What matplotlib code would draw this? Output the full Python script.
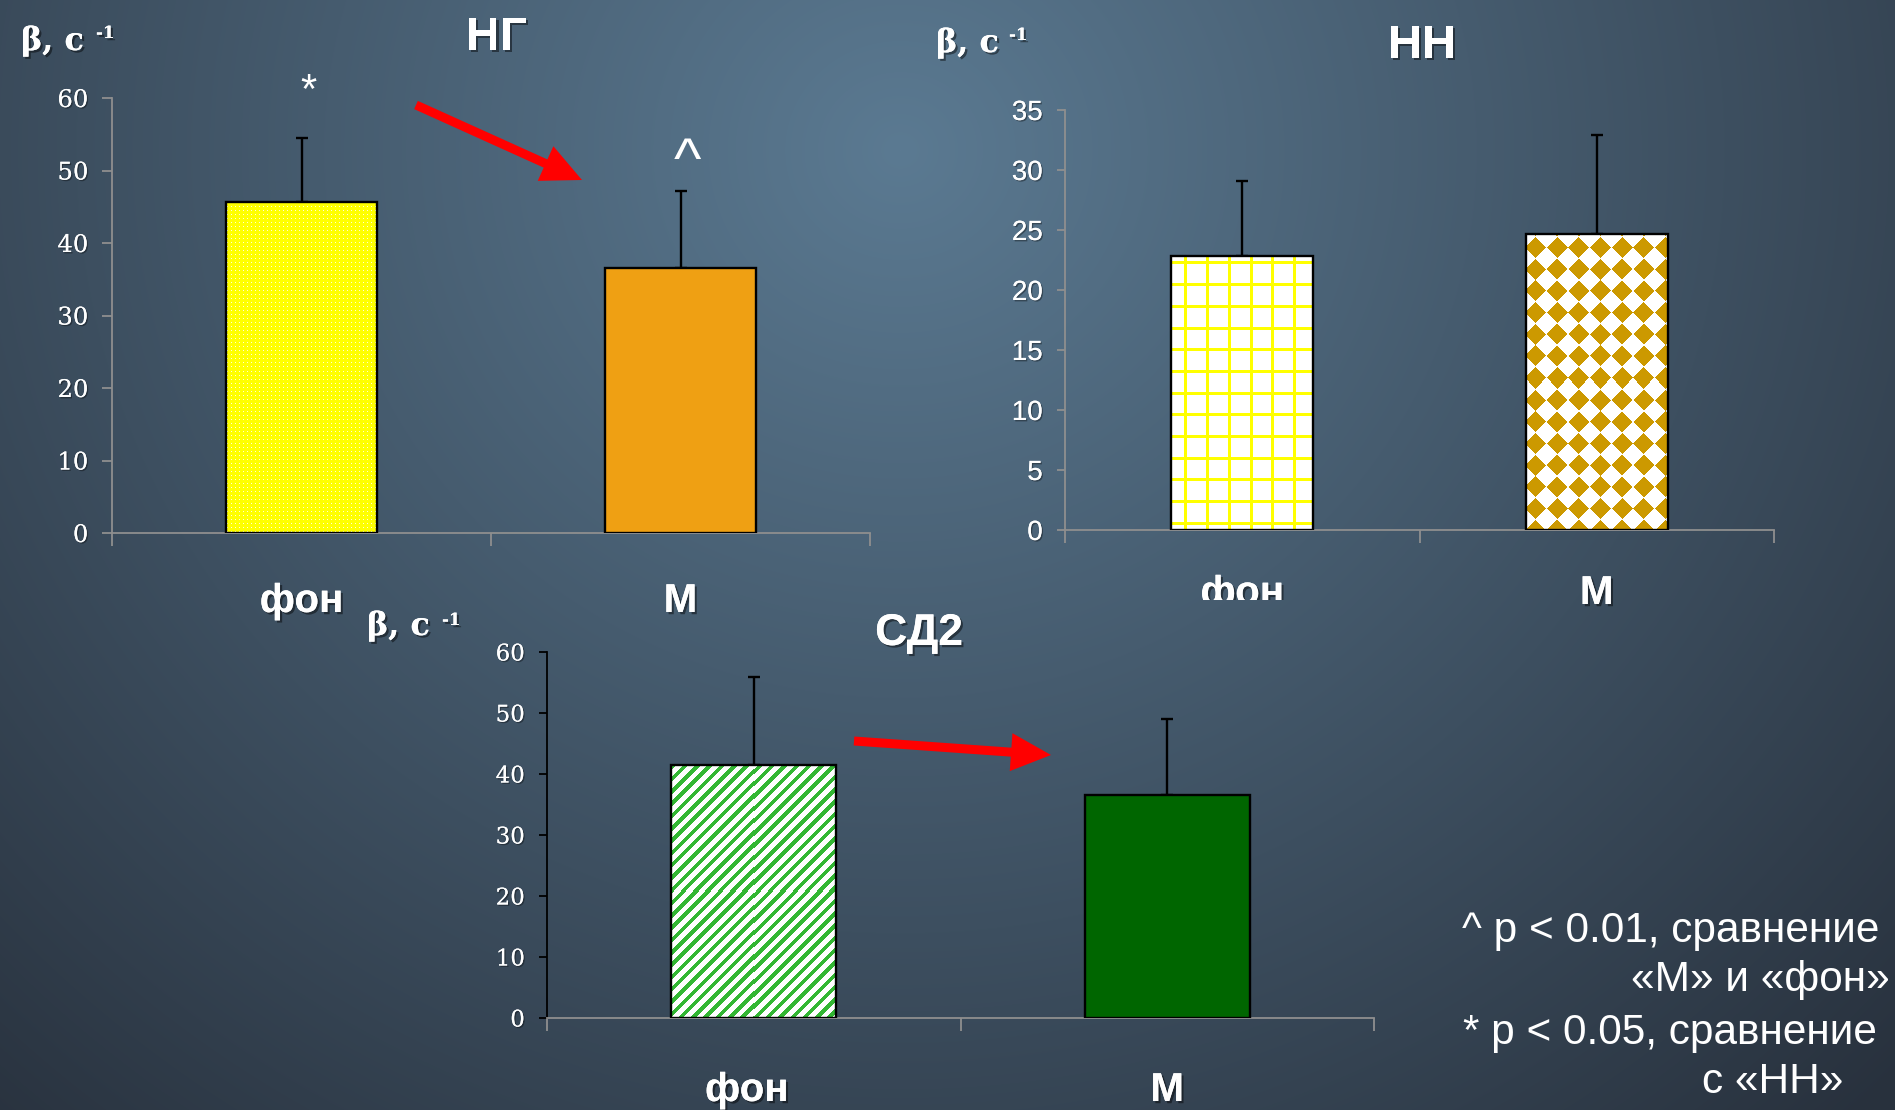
import numpy as np
import matplotlib
matplotlib.use('Agg')
import matplotlib.pyplot as plt
from matplotlib import patheffects as pe
from matplotlib.patches import FancyArrow
from matplotlib.transforms import Bbox, TransformedBbox

W, H, DPI = 1895, 1110, 100

# ---------------- data ----------------
categories = ['фон', 'М']
ng_values = [45.7, 36.6]
ng_errors = [8.8, 10.6]
nn_values = [22.8, 24.7]
nn_errors = [6.3, 8.2]
sd2_values = [41.5, 36.6]
sd2_errors = [14.4, 12.4]
ng_yticks = [0, 10, 20, 30, 40, 50, 60]
nn_yticks = [0, 5, 10, 15, 20, 25, 30, 35]
sd2_yticks = [0, 10, 20, 30, 40, 50, 60]
panel_titles = ['НГ', 'НН', 'СД2']
ylabel_text = 'β, с'
ylabel_sup = '-1'
sig_marks = ['*', '^']
legend_lines = ['^ p < 0.01, сравнение', '«М» и «фон»',
                '* p < 0.05, сравнение', 'с «НН»']

SANS = 'Liberation Sans'
SERIF = 'DejaVu Serif'
GREY = '#8f8f8f'
WHITE = '#ffffff'

shadow = [pe.withSimplePatchShadow(offset=(1.6, -1.6), shadow_rgbFace='black', alpha=0.45), pe.Normal()]
shadow_small = [pe.withSimplePatchShadow(offset=(1.0, -1.0), shadow_rgbFace='black', alpha=0.35), pe.Normal()]

fig = plt.figure(figsize=(W / DPI, H / DPI), dpi=DPI)

# ---------------- background ----------------
bg = fig.add_axes([0, 0, 1, 1], zorder=-10)
yy, xx = np.mgrid[0:H, 0:W].astype(np.float32)
d = np.sqrt((xx - 900) ** 2 + ((yy - 150) / 0.95) ** 2)
f = np.clip(1 - d / 1400.0, 0, 1)[..., None]
inner = np.array([0x5b, 0x7a, 0x92], dtype=np.float32) / 255
outer = np.array([0x28, 0x31, 0x3d], dtype=np.float32) / 255
bg.imshow(outer + (inner - outer) * f, extent=[0, W, H, 0], aspect='auto', interpolation='bilinear')
bg.set_xlim(0, W)
bg.set_ylim(H, 0)
bg.axis('off')


def px_box(x0, y0, x1, y1):
    return [x0 / W, 1 - y1 / H, (x1 - x0) / W, (y1 - y0) / H]


def make_panel(box, yticks, tick_font, tick_size, tick_pad, left_color, ytick_len):
    ax = fig.add_axes(px_box(*box))
    ax.patch.set_alpha(0)
    ax.set_xlim(-0.5, len(categories) - 0.5)
    ax.set_ylim(yticks[0], yticks[-1])
    for s in ('top', 'right'):
        ax.spines[s].set_visible(False)
    ax.spines['left'].set_color(left_color)
    ax.spines['bottom'].set_color(GREY)
    ax.spines['left'].set_linewidth(1.3)
    ax.spines['bottom'].set_linewidth(1.3)
    ax.set_yticks(yticks)
    ax.set_yticklabels([str(t) for t in yticks], fontfamily=tick_font,
                       fontsize=tick_size, color=WHITE)
    ax.tick_params(axis='y', direction='out', length=ytick_len, width=1.3,
                   color=left_color, pad=tick_pad)
    ax.set_xticks(np.arange(len(categories) + 1) - 0.5)
    ax.set_xticklabels([])
    ax.tick_params(axis='x', direction='out', length=9, width=1.3, color=GREY)
    for lab in ax.get_yticklabels():
        lab.set_path_effects(shadow_small)
    return ax


def draw_bars(ax, values, errors, faces):
    x = np.arange(len(categories))
    fills = ax.bar(x, values, width=0.4, color=faces, edgecolor='none', zorder=2)
    ax.bar(x, values, width=0.4, fill=False, edgecolor='black', linewidth=1.7, zorder=4)
    ax.errorbar(x, values, yerr=[np.zeros(len(values)), errors], fmt='none',
                ecolor='black', elinewidth=1.7, capsize=4.3, capthick=1.7, zorder=1)
    return fills


def texture(ax, bar, kind):
    x0, y0 = bar.get_x(), bar.get_y()
    x1, y1 = x0 + bar.get_width(), y0 + bar.get_height()
    (a, b), (c, e) = ax.transData.transform([(x0, y0), (x1, y1)])
    w, h = max(int(round(c - a)), 1), max(int(round(e - b)), 1)
    i, j = np.mgrid[0:h, 0:w].astype(float)
    rgb = np.ones((h, w, 3))
    if kind == 'dots':
        rgb[:] = (1, 1, 0)
        m = (i % 4 == 1) & (j % 4 == 1)
        rgb[m] = (1, 1, 0.85)
    elif kind == 'grid':
        P = 21.67
        m = (((j - 13) % P) < 3) | (((i - 5) % P) < 3)
        rgb[m] = (1, 1, 0)
    elif kind == 'diamonds':
        P = 21.67
        dx = ((j - 9 + P / 2) % P) - P / 2
        dy = ((i - 14 + P / 2) % P) - P / 2
        m = (np.abs(dx) + np.abs(dy)) < 0.48 * P
        rgb[m] = (0.8, 0.6, 0.0)
    elif kind == 'stripes':
        P = 12.3
        m = ((i + j) % P) < 5.5
        rgb[m] = (0.2, 0.72, 0.2)
    im = ax.imshow(rgb, extent=[x0, x1, y0, y1], origin='upper', aspect='auto',
                   interpolation='nearest', zorder=3)
    im.set_clip_path(bar)


# ---------------- panels ----------------
ax1 = make_panel((112, 98, 870, 533), ng_yticks, SERIF, 17.5, 10, GREY, 7)
b1 = draw_bars(ax1, ng_values, ng_errors, ['#ffff00', '#efa013'])
texture(ax1, b1[0], 'dots')

ax2 = make_panel((1065, 110, 1774, 530), nn_yticks, SANS, 20, 10, GREY, 6)
b2 = draw_bars(ax2, nn_values, nn_errors, ['white', 'white'])
texture(ax2, b2[0], 'grid')
texture(ax2, b2[1], 'diamonds')

ax3 = make_panel((547, 652, 1374, 1018), sd2_yticks, SERIF, 16.5, 10, 'black', 6)
b3 = draw_bars(ax3, sd2_values, sd2_errors, ['white', '#006600'])
texture(ax3, b3[0], 'stripes')

for ax, yt in ((ax1, ng_yticks), (ax2, nn_yticks), (ax3, sd2_yticks)):
    ax.set_xlim(-0.5, len(categories) - 0.5)
    ax.set_ylim(yt[0], yt[-1])

# ---------------- overlay (pixel coordinates, y down) ----------------
ov = fig.add_axes([0, 0, 1, 1], zorder=20)
ov.set_xlim(0, W)
ov.set_ylim(H, 0)
ov.axis('off')


def to_px(ax, x, y):
    dx, dy = ax.transData.transform((x, y))
    return dx, H - dy


# titles
for (tx, ty, size), t in zip([(496, 50, 34), (1422, 58, 34), (919, 645, 32)], panel_titles):
    ov.text(tx, ty, t, fontfamily=SANS, fontweight='bold', fontsize=size, color=WHITE,
            ha='center', va='baseline', path_effects=shadow)

# y-axis labels
for (lx, ly, sx, sy) in [(21, 50, 96, 38), (936, 52, 1009, 40), (367, 635, 442, 625)]:
    ov.text(lx, ly, ylabel_text, fontfamily=SERIF, fontweight='bold', fontsize=23,
            color=WHITE, ha='left', va='baseline', path_effects=shadow)
    ov.text(sx, sy, ylabel_sup, fontfamily=SERIF, fontweight='bold', fontsize=12,
            color=WHITE, ha='left', va='baseline', path_effects=shadow)

# category labels
clip_nn = TransformedBbox(Bbox([[0, 1 - 600 / H], [1, 1]]), fig.transFigure)
for ax, off, clip, dx0 in ((ax1, 79, None, 0), (ax2, 74, clip_nn, 0), (ax3, 83, None, -7)):
    for k, cat in enumerate(categories):
        px, py = to_px(ax, k, 0)
        t = ov.text(px + (dx0 if k == 0 else 0), py + off, cat, fontfamily=SANS,
                    fontweight='bold', fontsize=29, color=WHITE, ha='center',
                    va='baseline', path_effects=shadow)
        if clip is not None and k == 0:
            t.set_clip_on(True)
            t.set_clip_box(clip)

# significance marks on НГ
px, py = to_px(ax1, 0, ng_values[0] + ng_errors[0])
ov.text(px + 7, py - 35, sig_marks[0], fontfamily=SANS, fontsize=30, color=WHITE,
        ha='center', va='baseline')
px, py = to_px(ax1, 1, ng_values[1] + ng_errors[1])
ov.text(px + 7, py - 13, sig_marks[1], fontfamily=SANS, fontsize=42, color=WHITE,
        ha='center', va='baseline')

# red arrows
for (xa, ya), (xb, yb) in [((416, 105), (582, 180)), ((854, 741), (1051, 755))]:
    ov.add_patch(FancyArrow(xa, ya, xb - xa, yb - ya, width=9, head_width=38,
                            head_length=40, length_includes_head=True,
                            color='#ff0000', lw=0))

# legend text
for (x, y, ha), s in zip([(1462, 942, 'left'), (1890, 991, 'right'),
                          (1463, 1044, 'left'), (1843, 1093, 'right')], legend_lines):
    ov.text(x, y, s, fontfamily=SANS, fontsize=30.5, color=WHITE, ha=ha, va='baseline')

fig.savefig('out.png', dpi=DPI)
